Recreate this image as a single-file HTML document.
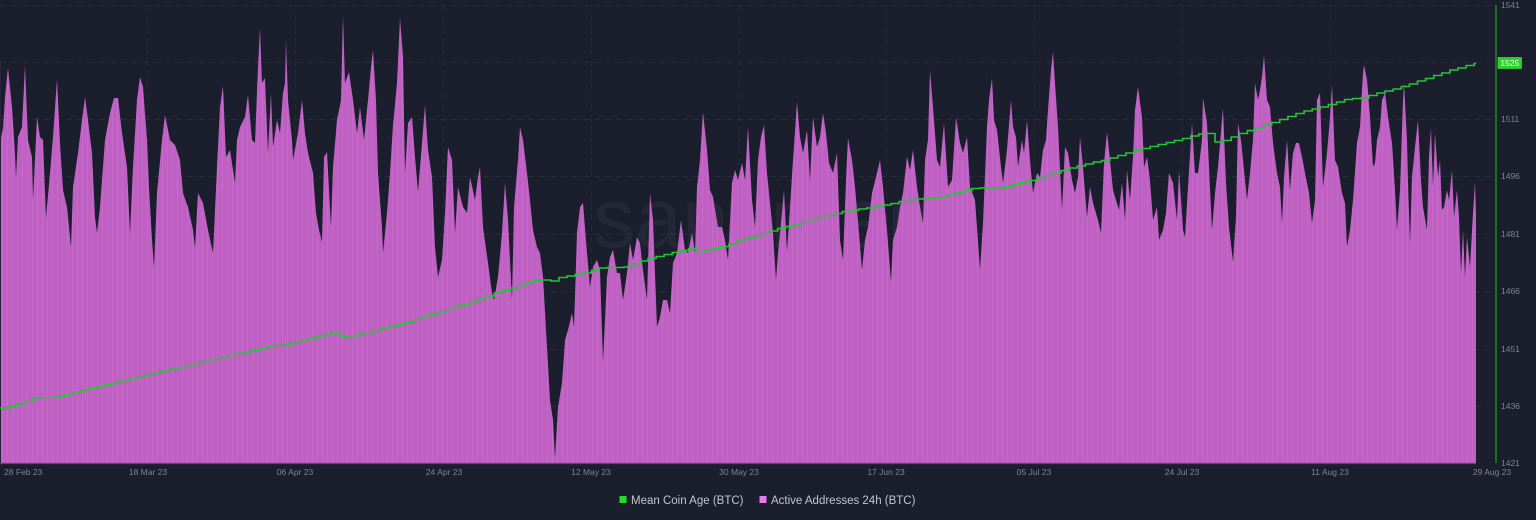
<!DOCTYPE html>
<html>
<head>
<meta charset="utf-8">
<style>
  html,body{margin:0;padding:0;background:#1b1e2c;}
  body{width:1536px;height:520px;overflow:hidden;}
  svg{display:block;}
  .yl{font-family:"Liberation Sans",sans-serif;font-size:8.5px;fill:#7f8491;}
  .xl{font-family:"Liberation Sans",sans-serif;font-size:8.5px;fill:#7f8491;}
  .lg{font-family:"Liberation Sans",sans-serif;font-size:11.5px;fill:#c3c6ce;}
</style>
</head>
<body>
<svg width="1536" height="520" viewBox="0 0 1536 520" xmlns="http://www.w3.org/2000/svg">
  <defs>
    <pattern id="str" x="0" y="0" width="5" height="10" patternUnits="userSpaceOnUse">
      <rect x="0" y="0" width="5" height="10" fill="#bf60c3"/>
      <rect x="2" y="0" width="1" height="10" fill="#cb70cf" opacity="0.55"/>
    </pattern>
  </defs>
  <rect x="0" y="0" width="1536" height="520" fill="#1b1e2c"/>

  <!-- watermark -->
  <text x="593" y="247" font-family="Liberation Sans, sans-serif" font-size="84" fill="#232736">santiment</text>

  <!-- horizontal grid -->
  <g stroke="#2a2e3c" stroke-width="1" stroke-dasharray="6,5">
    <line x1="0" y1="5.5" x2="1492" y2="5.5"/>
    <line x1="0" y1="62.5" x2="1492" y2="62.5"/>
    <line x1="0" y1="119.5" x2="1492" y2="119.5"/>
    <line x1="0" y1="176.5" x2="1492" y2="176.5"/>
    <line x1="0" y1="234.5" x2="1492" y2="234.5"/>
    <line x1="0" y1="291.5" x2="1492" y2="291.5"/>
    <line x1="0" y1="349.5" x2="1492" y2="349.5"/>
    <line x1="0" y1="406.5" x2="1492" y2="406.5"/>
  </g>
  <!-- vertical grid -->
  <g stroke="#262a38" stroke-width="1" stroke-dasharray="6,5">
    <line x1="147.5" y1="5" x2="147.5" y2="463"/>
    <line x1="295.5" y1="5" x2="295.5" y2="463"/>
    <line x1="443.5" y1="5" x2="443.5" y2="463"/>
    <line x1="591.5" y1="5" x2="591.5" y2="463"/>
    <line x1="739.5" y1="5" x2="739.5" y2="463"/>
    <line x1="886.5" y1="5" x2="886.5" y2="463"/>
    <line x1="1034.5" y1="5" x2="1034.5" y2="463"/>
    <line x1="1182.5" y1="5" x2="1182.5" y2="463"/>
    <line x1="1330.5" y1="5" x2="1330.5" y2="463"/>
  </g>

  <!-- Active addresses area (bars silhouette) -->
  <polygon fill="url(#str)" points="0,463 0,143 3,128 5,97 8,68 12,107 15,153 16,178 18,137 22,127 25,65 28,140 32,157 33,200 37,117 40,137 43,140 46,218 50,173 53,137 57,79 60,143 63,190 67,207 71,247 73,187 78,153 82,120 85,97 88,120 92,153 95,217 97,233 100,207 105,140 110,113 114,98 118,98 122,133 127,167 130,233 133,167 137,100 140,77 143,87 147,140 149,187 152,240 154,268 157,193 162,140 165,115 170,140 175,145 180,160 183,193 188,207 193,230 195,248 198,193 203,203 208,230 213,253 217,167 220,107 223,86 226,157 230,150 235,183 237,140 240,127 245,117 248,95 252,140 255,143 258,67 260,28 262,83 265,78 268,153 271,93 273,147 277,120 280,133 283,93 285,83 286,40 288,100 292,140 293,160 298,133 302,100 305,133 308,153 313,173 316,213 319,230 322,242 324,157 327,152 331,227 333,167 337,120 341,100 343,15 345,83 349,72 353,100 357,133 360,107 364,140 368,100 371,67 373,50 376,100 378,173 382,227 383,253 387,213 390,173 393,125 397,83 400,18 403,57 405,173 408,123 412,117 415,157 418,192 422,143 425,105 428,150 432,177 435,247 438,277 442,260 445,213 448,147 452,160 455,233 458,187 463,207 467,213 470,177 475,200 478,177 480,167 483,227 488,263 492,293 494,300 498,277 502,233 505,183 508,220 512,300 514,207 518,160 520,127 523,140 527,173 530,200 533,230 537,247 540,253 543,277 547,347 550,400 553,420 555,458 558,407 562,383 565,340 568,330 572,313 574,327 577,233 580,207 583,203 587,253 590,287 593,267 597,260 600,270 603,362 607,277 610,257 613,250 617,273 620,273 623,300 627,273 630,243 633,260 637,237 640,243 643,270 647,300 650,193 653,220 657,327 660,317 663,300 667,300 670,313 673,263 677,253 681,220 685,250 688,253 692,233 695,253 697,187 700,160 703,112 707,150 710,190 713,197 718,227 722,227 725,240 728,260 732,183 735,170 738,180 742,163 745,180 748,127 752,200 755,227 758,160 761,137 764,125 767,173 771,213 773,233 776,280 778,253 782,213 784,190 787,252 790,207 793,160 797,102 800,137 803,153 807,130 810,180 813,117 817,147 820,137 823,113 826,133 829,163 833,173 837,153 840,240 843,260 846,180 848,138 852,160 855,187 859,233 862,270 865,240 868,227 872,193 877,173 880,160 883,187 887,230 891,282 893,240 897,227 900,207 903,193 907,157 910,170 913,150 917,187 920,207 923,223 925,160 928,140 930,70 933,107 937,160 940,167 944,123 948,187 952,180 956,117 960,143 963,153 967,137 970,187 975,200 977,227 980,270 983,223 987,127 989,100 992,78 994,120 997,130 1001,167 1003,183 1007,150 1011,100 1013,127 1016,137 1018,167 1022,140 1024,153 1027,120 1030,160 1033,193 1037,173 1040,177 1043,150 1046,140 1048,110 1051,70 1053,52 1055,83 1058,127 1062,210 1065,147 1068,153 1072,180 1075,193 1078,177 1080,137 1083,167 1087,217 1090,187 1093,203 1098,220 1101,233 1104,163 1107,132 1110,160 1113,190 1116,200 1119,210 1122,183 1125,220 1127,170 1130,200 1133,157 1135,110 1138,87 1142,117 1144,167 1147,157 1150,180 1153,220 1157,207 1159,240 1163,230 1166,213 1169,173 1173,183 1177,220 1179,170 1183,230 1185,237 1188,187 1192,123 1195,173 1198,173 1202,140 1203,98 1207,123 1209,167 1212,230 1215,193 1218,167 1223,108 1226,183 1229,227 1233,262 1236,217 1238,123 1241,140 1243,160 1247,200 1250,173 1253,140 1255,83 1258,100 1260,90 1262,77 1264,55 1267,100 1270,107 1273,143 1277,173 1280,187 1282,223 1284,177 1287,140 1290,190 1293,153 1296,143 1299,143 1302,157 1305,173 1309,193 1312,223 1315,200 1317,100 1320,93 1323,187 1327,153 1330,117 1332,85 1335,160 1338,167 1342,193 1345,203 1347,247 1350,230 1353,200 1357,143 1360,127 1363,73 1364,65 1367,80 1370,117 1373,167 1375,163 1377,140 1380,127 1382,100 1385,93 1388,117 1392,143 1395,190 1397,230 1400,190 1403,100 1404,83 1407,140 1408,183 1410,243 1412,177 1415,147 1418,120 1421,180 1423,207 1427,230 1429,157 1431,128 1433,187 1435,133 1438,177 1440,160 1442,210 1444,207 1447,190 1449,200 1452,170 1454,217 1457,190 1459,217 1461,273 1463,230 1465,277 1467,237 1470,267 1473,213 1475,182 1476,213 1476,463"/>
  <line x1="0" y1="463.5" x2="1476" y2="463.5" stroke="#6e3a78" stroke-width="1.2"/>
  <line x1="0.5" y1="60" x2="0.5" y2="463" stroke="#2a2438" stroke-width="1"/>

  <!-- Mean coin age line -->
  <polyline id="mca" fill="none" stroke="#27c437" stroke-width="1.6" stroke-linejoin="miter" points="0,408 10,406 20,403 33,398 45,397 53,398 60,395 77,391 100,386 133,378 167,370 200,362 233,354 267,347 293,343 320,335 333,332 337,336 347,338 357,335 370,332 403,323 437,312 470,302 503,290 537,280 547,280 552,281 557,278 587,272 603,267 613,268 623,267 643,260 670,253 690,248 695,252 720,247 740,240 773,230 807,220 840,212 873,207 907,200 940,197 973,188 997,188 1003,187 1023,182 1040,177 1073,167 1107,159 1143,148 1177,140 1198,134 1212,133 1214,142 1222,141 1243,132 1270,123 1297,113 1327,105 1347,99 1362,98 1377,93 1400,87 1427,78 1450,70 1476,63"/>

  <!-- right axis -->
  <line x1="1496" y1="5" x2="1496" y2="463" stroke="#1f7f2b" stroke-width="1.6"/>
  <g class="yl">
    <text x="1501" y="8">1541</text>
    <text x="1501" y="122">1511</text>
    <text x="1501" y="179">1496</text>
    <text x="1501" y="237">1481</text>
    <text x="1501" y="294">1466</text>
    <text x="1501" y="352">1451</text>
    <text x="1501" y="409">1436</text>
    <text x="1501" y="466">1421</text>
  </g>
  <rect x="1498" y="57.5" width="23.5" height="11" fill="#27d427" stroke="#4ee24e" stroke-width="0.6"/>
  <text x="1509.8" y="66" text-anchor="middle" font-family="Liberation Sans, sans-serif" font-size="8.5" fill="#f4fff4">1525</text>

  <!-- x labels -->
  <g class="xl">
    <text x="4" y="475">28 Feb 23</text>
    <text x="148" y="475" text-anchor="middle">18 Mar 23</text>
    <text x="295" y="475" text-anchor="middle">06 Apr 23</text>
    <text x="444" y="475" text-anchor="middle">24 Apr 23</text>
    <text x="591" y="475" text-anchor="middle">12 May 23</text>
    <text x="739" y="475" text-anchor="middle">30 May 23</text>
    <text x="886" y="475" text-anchor="middle">17 Jun 23</text>
    <text x="1034" y="475" text-anchor="middle">05 Jul 23</text>
    <text x="1182" y="475" text-anchor="middle">24 Jul 23</text>
    <text x="1330" y="475" text-anchor="middle">11 Aug 23</text>
    <text x="1492" y="475" text-anchor="middle">29 Aug 23</text>
  </g>

  <!-- legend -->
  <rect x="619.5" y="496" width="7" height="7" fill="#22dd22"/>
  <text class="lg" x="631" y="504">Mean Coin Age (BTC)</text>
  <rect x="759.5" y="496" width="7" height="7" fill="#e57aec"/>
  <text class="lg" x="771" y="504">Active Addresses 24h (BTC)</text>
</svg>
<script>
(function(){
  var el=document.getElementById('mca');
  if(!el)return;
  var raw=el.getAttribute('points').trim().split(/\s+/).map(function(p){var a=p.split(',');return [parseFloat(a[0]),parseFloat(a[1])];});
  function yAt(x){
    for(var i=1;i<raw.length;i++){
      if(x<=raw[i][0]){var a=raw[i-1],b=raw[i];var t=(x-a[0])/((b[0]-a[0])||1);return a[1]+(b[1]-a[1])*t;}
    }
    return raw[raw.length-1][1];
  }
  var step=8.1,pts=[],x=0,y=Math.round(yAt(0)*2)/2;
  pts.push([0,y]);
  while(x+step<1476){
    x+=step;
    pts.push([x,y]);
    y=Math.round(yAt(x)*2)/2;
    pts.push([x,y]);
  }
  pts.push([1476,y]);
  el.setAttribute('points',pts.map(function(p){return p[0].toFixed(1)+','+p[1];}).join(' '));
})();
</script>
</body>
</html>
